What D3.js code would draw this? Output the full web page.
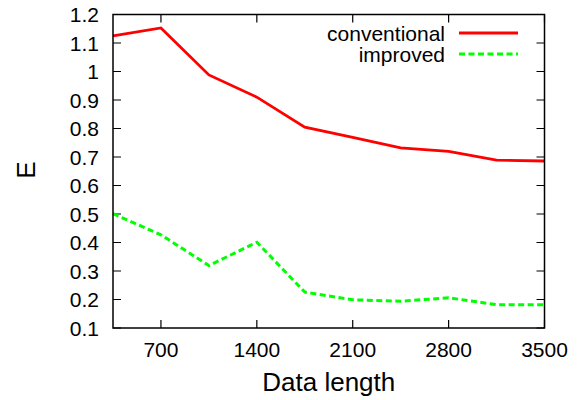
<!doctype html>
<html lang="en">
<head>
<meta charset="utf-8">
<title>E vs data length</title>
<style>
body { margin: 0; background: #fff; font-family: "Liberation Sans", Arial, Helvetica, sans-serif; }
</style>
</head>
<body>
<div id="chart"></div>
<script src="https://d3js.org/d3.v7.min.js"></script>
<script>
var dataLength = [350, 700, 1050, 1400, 1750, 2100, 2450, 2800, 3150, 3500];
var conventional = [1.125, 1.153, 0.988, 0.91, 0.805, 0.769, 0.732, 0.72, 0.689, 0.686];
var improved = [0.501, 0.427, 0.319, 0.401, 0.226, 0.199, 0.194, 0.206, 0.182, 0.182];
var xTicks = [700, 1400, 2100, 2800, 3500];
var yTicks = [0.1, 0.2, 0.3, 0.4, 0.5, 0.6, 0.7, 0.8, 0.9, 1, 1.1, 1.2];

var width = 584, height = 400;
var margin = {top: 14.5, right: 39.5, bottom: 72, left: 113};
var w = width - margin.left - margin.right,
    h = height - margin.top - margin.bottom;

var svg = d3.select("#chart").append("svg")
    .attr("width", width)
    .attr("height", height);

var g = svg.append("g")
    .attr("transform", "translate(" + margin.left + "," + margin.top + ")");

var x = d3.scaleLinear().domain([350, 3500]).range([0, w]);
var y = d3.scaleLinear().domain([0.1, 1.2]).range([h, 0]);

// inward ticks on all sides, gnuplot style
var tickLen = 8;
g.selectAll(".xt").data(xTicks).enter().append("path")
    .attr("d", function(d) {
        var px = x(d);
        return "M" + px + "," + h + "V" + (h - tickLen) + "M" + px + ",0V" + tickLen;
    })
    .attr("stroke", "#000").attr("stroke-width", 1.2);
g.selectAll(".yt").data(yTicks).enter().append("path")
    .attr("d", function(d) {
        var py = y(d);
        return "M0," + py + "H" + tickLen + "M" + w + "," + py + "H" + (w - tickLen);
    })
    .attr("stroke", "#000").attr("stroke-width", 1.2);

g.selectAll(".xl").data(xTicks).enter().append("text")
    .attr("x", function(d) { return x(d); })
    .attr("y", h + 29)
    .attr("text-anchor", "middle")
    .attr("font-size", "21px")
    .text(function(d) { return d; });

g.selectAll(".yl").data(yTicks).enter().append("text")
    .attr("x", -14)
    .attr("y", function(d) { return y(d) + 7.5; })
    .attr("text-anchor", "end")
    .attr("font-size", "21px")
    .text(function(d) { return d3.format("")(d); });

var line = d3.line()
    .x(function(d, i) { return x(dataLength[i]); })
    .y(function(d) { return y(d); });

g.append("path").datum(conventional)
    .attr("d", line)
    .attr("fill", "none")
    .attr("stroke", "#ff0000")
    .attr("stroke-width", 2.8);

g.append("path").datum(improved)
    .attr("d", line)
    .attr("fill", "none")
    .attr("stroke", "#00ff00")
    .attr("stroke-width", 3)
    .attr("stroke-dasharray", "6,3.5");

// frame
g.append("rect")
    .attr("width", w).attr("height", h)
    .attr("fill", "none")
    .attr("stroke", "#000")
    .attr("stroke-width", 1.5);

// legend
var legend = [
    {name: "conventional", color: "#ff0000", dash: null},
    {name: "improved", color: "#00ff00", dash: "6,3.5"}
];
var lg = svg.selectAll(".legend").data(legend).enter().append("g")
    .attr("transform", function(d, i) { return "translate(0," + (33 + i * 21) + ")"; });
lg.append("text")
    .attr("x", 445).attr("y", 7.5)
    .attr("text-anchor", "end")
    .attr("font-size", "21px")
    .text(function(d) { return d.name; });
lg.append("line")
    .attr("x1", 459).attr("x2", 518)
    .attr("stroke", function(d) { return d.color; })
    .attr("stroke-width", 3)
    .attr("stroke-dasharray", function(d) { return d.dash; });

// axis titles
svg.append("text")
    .attr("x", margin.left + w / 2)
    .attr("y", 391)
    .attr("text-anchor", "middle")
    .attr("font-size", "26px")
    .text("Data length");

svg.append("text")
    .attr("transform", "translate(35,170) rotate(-90)")
    .attr("text-anchor", "middle")
    .attr("font-size", "26px")
    .text("E");
</script>
</body>
</html>
